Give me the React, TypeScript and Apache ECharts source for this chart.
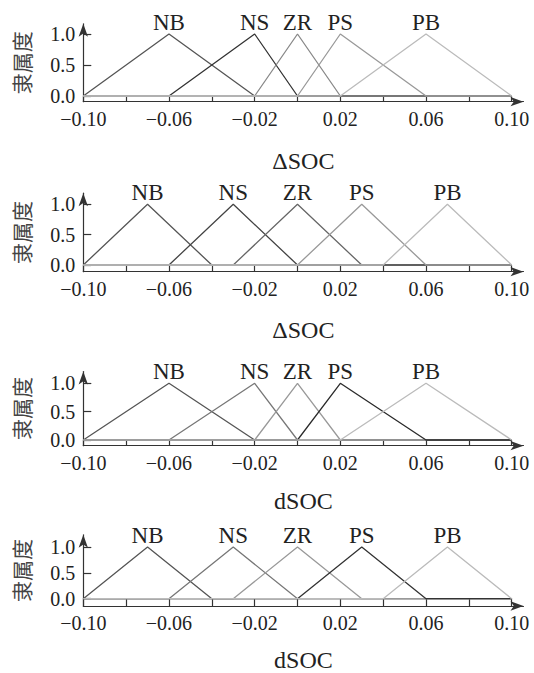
import { useEffect, useRef } from 'react';
import * as echarts from 'echarts';

// Fuzzy term names shared by every panel
const termNames = ['NB', 'NS', 'ZR', 'PS', 'PB'];

// Triangular membership functions: [left foot, peak, right foot]
const deltaSocTermsA = [
  [-0.1, -0.06, -0.02],
  [-0.06, -0.02, 0],
  [-0.02, 0, 0.02],
  [0, 0.02, 0.06],
  [0.02, 0.06, 0.1],
];
const deltaSocTermsB = [
  [-0.1, -0.07, -0.04],
  [-0.06, -0.03, 0],
  [-0.03, 0, 0.03],
  [0, 0.03, 0.06],
  [0.04, 0.07, 0.1],
];
const dSocTermsA = [
  [-0.1, -0.06, -0.02],
  [-0.06, -0.02, 0],
  [-0.02, 0, 0.02],
  [0, 0.02, 0.06],
  [0.02, 0.06, 0.1],
];
const dSocTermsB = [
  [-0.1, -0.07, -0.04],
  [-0.06, -0.03, 0],
  [-0.03, 0, 0.03],
  [0, 0.03, 0.06],
  [0.04, 0.07, 0.1],
];

const universe = [-0.1, 0.1];
const xTickValues = [-0.1, -0.08, -0.06, -0.04, -0.02, 0, 0.02, 0.04, 0.06, 0.08, 0.1];
const xLabelValues = [-0.1, -0.06, -0.02, 0.02, 0.06, 0.1];
const yTickValues = [0, 0.5, 1];
const axisTitles = ['\u0394SOC', '\u0394SOC', 'dSOC', 'dSOC'];
const yTitle = '隶属度';

const panelTerms = [deltaSocTermsA, deltaSocTermsB, dSocTermsA, dSocTermsB];
const panelColors = [
  ['#555555', '#333333', '#888888', '#999999', '#bbbbbb'],
  ['#555555', '#444444', '#666666', '#999999', '#bbbbbb'],
  ['#555555', '#777777', '#999999', '#2a2a2a', '#bbbbbb'],
  ['#555555', '#777777', '#999999', '#333333', '#bbbbbb'],
];

// Pixel layout of each panel: zero level, pixels per unit, x-axis line, arrow tip
const panelLayout = [
  { zeroY: 96, unit: 62, axisY: 101.7, tipY: 17.3, nameGap: 47 },
  { zeroY: 265, unit: 60.7, axisY: 271.7, tipY: 186.7, nameGap: 46 },
  { zeroY: 440, unit: 56.7, axisY: 445.7, tipY: 365, nameGap: 43 },
  { zeroY: 605, unit: 56.7, axisY: 613, tipY: 528.3, nameGap: 42 },
];
const plotLeft = 83.3;
const plotRightTick = 511.7; // pixel of x = 0.1
const xArrowTip = 530;
const arrowSize = [7, 13];

const serif = '"Liberation Serif", "Times New Roman", serif';

function termPoints(name: string, t: number[]) {
  const [a, b, c] = t;
  const pts: any[] = [];
  if (a > universe[0]) pts.push([universe[0], 0]);
  pts.push([a, 0]);
  pts.push({
    value: [b, 1],
    label: {
      show: true,
      formatter: name,
      position: 'top',
      distance: 0,
      fontSize: 23,
      fontFamily: serif,
      color: '#222',
    },
  });
  pts.push([c, 0]);
  if (c < universe[1]) pts.push([universe[1], 0]);
  return pts;
}

function fmtX(v: number) {
  const s = Math.abs(v).toFixed(2);
  return (v < -1e-9 ? '\u2212' : '') + s;
}

export default function App() {
  const ref = useRef<HTMLDivElement>(null);

  useEffect(() => {
    if (!ref.current) return;
    const chart = echarts.init(ref.current, null, { renderer: 'svg' });

    const pxPerX = (plotRightTick - plotLeft) / (universe[1] - universe[0]);
    const xEndPx = xArrowTip - arrowSize[1] / 2;
    const xMax = universe[1] + (xEndPx - plotRightTick) / pxPerX;

    const grids: any[] = [];
    const xAxes: any[] = [];
    const yAxes: any[] = [];
    const series: any[] = [];

    panelLayout.forEach((L, i) => {
      const endY = L.tipY + arrowSize[1] / 2;
      const yMin = -(L.axisY - L.zeroY) / L.unit;
      const yMax = (L.zeroY - endY) / L.unit;
      grids.push({
        left: plotLeft,
        top: endY,
        width: xEndPx - plotLeft,
        height: L.axisY - endY,
      });
      xAxes.push({
        type: 'value',
        gridIndex: i,
        min: universe[0],
        max: xMax,
        name: axisTitles[i],
        nameLocation: 'middle',
        nameGap: L.nameGap,
        nameTextStyle: { fontSize: 24, fontFamily: serif, color: '#222' },
        axisLine: {
          show: true,
          onZero: false,
          symbol: ['none', 'arrow'],
          symbolSize: arrowSize,
          lineStyle: { color: '#333', width: 1.2 },
        },
        axisTick: {
          show: true,
          inside: true,
          length: L.axisY - L.zeroY,
          customValues: xTickValues,
          lineStyle: { color: '#333', width: 1.2 },
        },
        axisLabel: {
          customValues: xLabelValues,
          formatter: fmtX,
          margin: 7,
          fontSize: 20,
          fontFamily: serif,
          color: '#222',
        },
        splitLine: { show: false },
      });
      yAxes.push({
        type: 'value',
        gridIndex: i,
        min: yMin,
        max: yMax,
        name: yTitle,
        nameLocation: 'middle',
        nameRotate: 90,
        nameGap: 52,
        nameTextStyle: { fontSize: 21, fontFamily: '"Noto Sans CJK SC"', color: '#444' },
        axisLine: {
          show: true,
          onZero: false,
          symbol: ['none', 'arrow'],
          symbolSize: arrowSize,
          lineStyle: { color: '#333', width: 1.2 },
        },
        axisTick: {
          show: true,
          inside: true,
          length: 8,
          customValues: yTickValues,
          lineStyle: { color: '#333', width: 1.2 },
        },
        axisLabel: {
          customValues: yTickValues,
          formatter: (v: number) => v.toFixed(1),
          margin: 8,
          fontSize: 20,
          fontFamily: serif,
          color: '#222',
        },
        splitLine: { show: false },
      });
      panelTerms[i].forEach((t, k) => {
        series.push({
          type: 'line',
          xAxisIndex: i,
          yAxisIndex: i,
          data: termPoints(termNames[k], t),
          showSymbol: true,
          symbol: 'circle',
          symbolSize: 0,
          silent: true,
          lineStyle: { color: panelColors[i][k], width: 1.3 },
          itemStyle: { color: panelColors[i][k] },
          label: { show: false },
          z: 2,
        });
      });
    });

    chart.setOption({
      animation: false,
      backgroundColor: '#ffffff',
      grid: grids,
      xAxis: xAxes,
      yAxis: yAxes,
      series,
    });

    return () => chart.dispose();
  }, []);

  return (
    <div
      ref={ref}
      style={{ position: 'absolute', left: 0, top: 0, width: 534, height: 673 }}
    />
  );
}
